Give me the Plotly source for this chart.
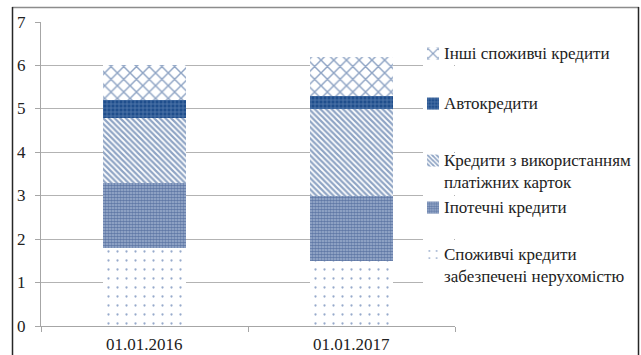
import plotly.graph_objects as go

# Structure of consumer loans by date (stacked)
dates = ["01.01.2016", "01.01.2017"]
secured_realty = [1.8, 1.5]   # Споживчі кредити забезпечені нерухомістю
mortgage = [1.5, 1.5]         # Іпотечні кредити
cards = [1.5, 2.0]            # Кредити з використанням платіжних карток
auto = [0.4, 0.3]             # Автокредити
other = [0.8, 0.9]            # Інші споживчі кредити

series_names = [
    "Споживчі кредити<br>забезпечені нерухомістю",
    "Іпотечні кредити",
    "Кредити з використанням<br>платіжних карток",
    "Автокредити",
    "Інші споживчі кредити",
]
series_values = [secured_realty, mortgage, cards, auto, other]
y_ticks = [0, 1, 2, 3, 4, 5, 6, 7]

DARK = "#1f4e8c"
styles = [
    dict(color="white", pattern=dict(shape=".", fgcolor="#2f5597", bgcolor="white",
                                     size=9, solidity=0.05)),
    dict(color="#3d639c", pattern=dict(shape=".", fgcolor="#1f3f7a", bgcolor="#a2b3d2",
                                       size=3, solidity=0.65)),
    dict(color="white", pattern=dict(shape="\\", fgcolor="#1f4a8a", bgcolor="white",
                                     size=4, solidity=0.55)),
    dict(color=DARK, pattern=dict(shape="+", fgcolor="#8ea9d1", bgcolor=DARK,
                                  size=4, solidity=0.35)),
    dict(color="white", pattern=dict(shape="x", fgcolor="#1f4a8a", bgcolor="white",
                                     size=9, solidity=0.3)),
]

W, H = 641, 355
L, R, T, B = 41, 186, 22, 29
pw, ph = W - L - R, H - T - B

def px_x(p):
    return (p - L) / pw

def px_y(p):
    return (H - B - p) / ph

FAMILY = "Liberation Serif"

def text_font():
    return dict(family=FAMILY, size=17, color="#222222")

# legend entries: symbol boxes come from the legends, labels are placed as text
legend_tops = [237, 190, 143, 86, 36]          # top of each legend box (px)
legend_ids = ["legend", "legend2", "legend3", "legend4", "legend5"]

fig = go.Figure()
for i, (name, vals, st) in enumerate(zip(series_names, series_values, styles)):
    fig.add_trace(go.Bar(
        x=dates, y=vals, name=" ", legend=legend_ids[i],
        marker=dict(color=st["color"], pattern=st["pattern"], line=dict(width=0)),
        width=0.4, hovertext=name.replace("<br>", " "),
    ))

fig.update_layout(
    width=W, height=H,
    barmode="stack",
    margin=dict(l=L, r=R, t=T, b=B, autoexpand=False),
    paper_bgcolor="white", plot_bgcolor="white",
    showlegend=True,
)
for lid, top in zip(legend_ids, legend_tops):
    fig.update_layout({lid: dict(
        x=px_x(413), y=px_y(top), xanchor="left", yanchor="top",
        bgcolor="rgba(0,0,0,0)", borderwidth=0, valign="top", itemwidth=30,
        font=dict(size=17),
    )})

fig.update_xaxes(
    type="category", range=[-0.5, 1.5],
    showline=True, linecolor="#a6a6a6", linewidth=1,
    ticks="outside", tickson="boundaries", ticklen=5, tickcolor="#a6a6a6",
    showgrid=False, showticklabels=False,
)
fig.update_yaxes(
    range=[0, 7], tickvals=y_ticks,
    showline=True, linecolor="#a6a6a6", linewidth=1,
    ticks="outside", ticklen=5, tickcolor="#a6a6a6",
    showgrid=True, gridcolor="#b3b3b3", gridwidth=1,
    zeroline=False, showticklabels=False,
)

# axis labels
for d in dates:
    fig.add_annotation(x=d, y=0, xref="x", yref="y", text=d, showarrow=False,
                       yanchor="top", yshift=-8, borderpad=0, font=text_font())
for v in y_ticks:
    fig.add_annotation(x=px_x(28), y=v, xref="paper", yref="y", text=str(v),
                       showarrow=False, xanchor="right", yanchor="middle",
                       font=text_font())

# legend labels, top entry first
for name, top in zip(series_names, legend_tops):
    fig.add_annotation(x=px_x(442), y=px_y(top + 6), xref="paper", yref="paper",
                       text=name, showarrow=False, xanchor="left", yanchor="top",
                       align="left", font=text_font())

fig.update_layout(shapes=[
    # white band where the legend sits over the gridlines
    dict(type="rect", xref="paper", yref="paper",
         x0=px_x(423), x1=px_x(454), y0=px_y(23), y1=px_y(322),
         fillcolor="white", line=dict(width=0), layer="above"),
    # outer frame of the chart
    dict(type="line", xref="paper", yref="paper",
         x0=px_x(12), x1=px_x(639), y0=px_y(7.5), y1=px_y(7.5),
         line=dict(color="#8c8c8c", width=1.5)),
    dict(type="line", xref="paper", yref="paper",
         x0=px_x(12.5), x1=px_x(12.5), y0=px_y(7), y1=px_y(360),
         line=dict(color="#262626", width=1.5)),
    dict(type="line", xref="paper", yref="paper",
         x0=px_x(638.5), x1=px_x(638.5), y0=px_y(7), y1=px_y(360),
         line=dict(color="#262626", width=1.5)),
])

fig.write_html("out.html")
